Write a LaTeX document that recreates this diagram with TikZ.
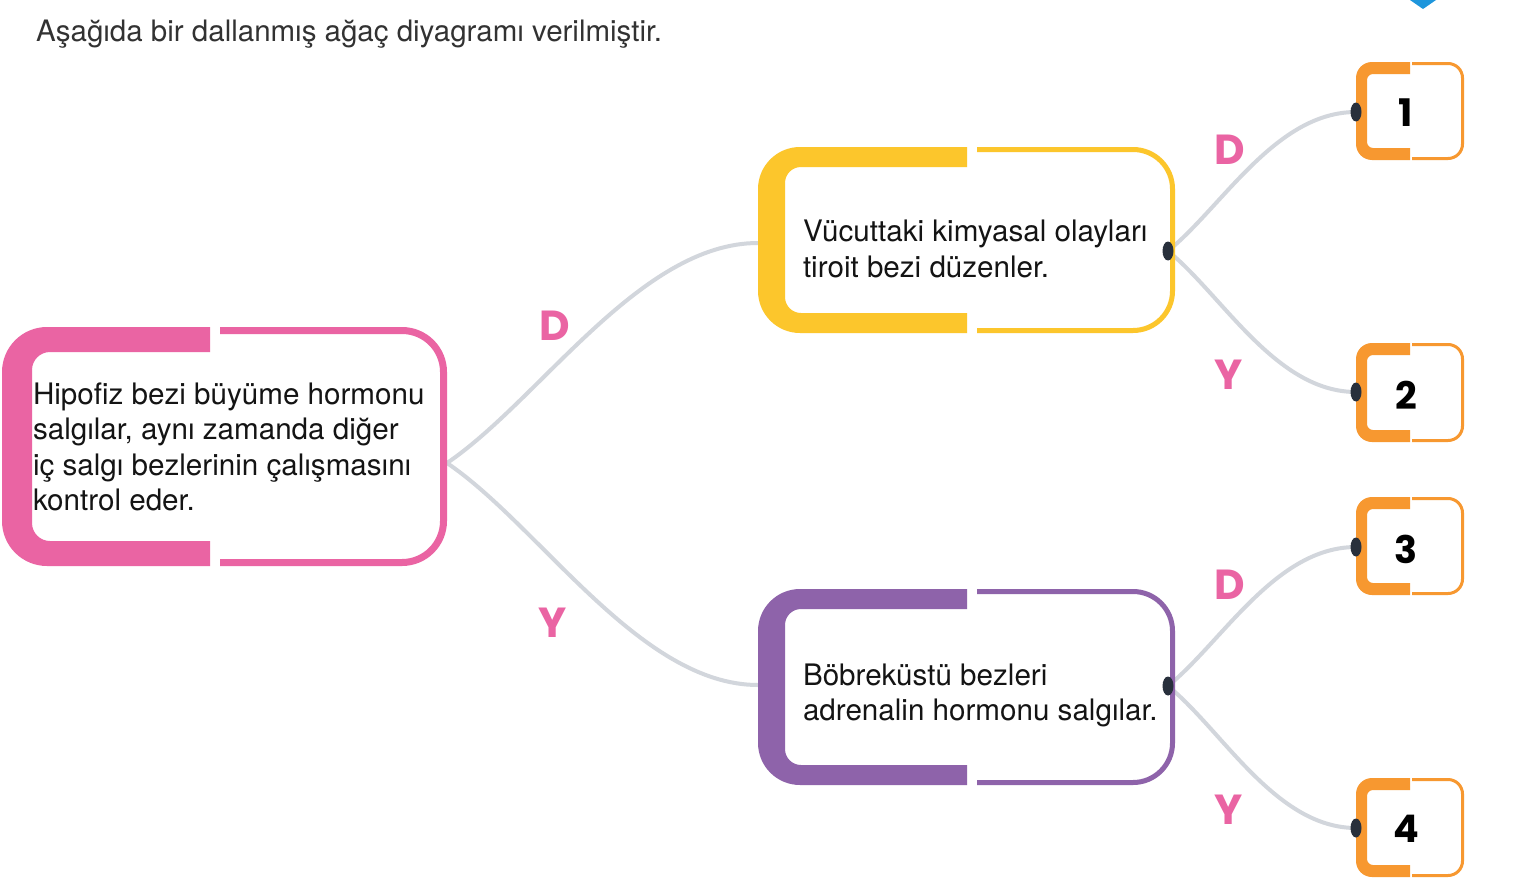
\documentclass[tikz,border=0pt]{standalone}
\usepackage{fontspec}
\setmainfont{TeX Gyre Heros}
\newfontfamily\labfont{Poppins}
\usetikzlibrary{calc,shapes.geometric,backgrounds}
\definecolor{pinkc}{RGB}{234,100,163}
\definecolor{yellowc}{RGB}{252,198,44}
\definecolor{purplec}{RGB}{142,99,170}
\definecolor{orangec}{RGB}{247,152,48}
\definecolor{connc}{RGB}{210,214,220}
\definecolor{dotc}{RGB}{40,48,60}
\definecolor{textc}{RGB}{20,20,20}
\definecolor{titlec}{RGB}{50,50,50}
\definecolor{bluec}{RGB}{30,150,220}
% #1 name #2 colour #3 split x #4 gap #5 thin #6 thick side #7 thick bar #8 outer radius #9 inner radius
\newcommand\bracketbox[9]{%
  \begin{scope}
    \clip (-10,-10) rectangle (#3,900);
    \fill[#2, even odd rule, rounded corners=#8] (#1.north west) rectangle (#1.south east)
      [rounded corners=#9] ($(#1.north west)+(#6,#7)$) rectangle ($(#1.south east)+(-#6,-#7)$);
  \end{scope}
  \begin{scope}
    \clip (#3+#4,-10) rectangle (1600,900);
    \draw[#2, line width=#5, rounded corners=#8-#5/2]
      ($(#1.north west)+(#5/2,#5/2)$) rectangle ($(#1.south east)+(-#5/2,-#5/2)$);
  \end{scope}}
\begin{document}
\begin{tikzpicture}[x=1pt,y=-1pt,
  area/.style={inner sep=0, outer sep=0, draw=none},
  txt/.style={inner sep=0, outer sep=0, align=left, text=textc, font=\fontsize{29.6}{35.5}\selectfont},
  lab/.style={inner sep=0, text=pinkc, font=\labfont\bfseries\fontsize{42}{42}\selectfont},
  num/.style={inner sep=0, text=black, font=\labfont\bfseries\fontsize{38}{38}\selectfont},
  dot/.style={ellipse, fill=dotc, inner sep=0, minimum width=11, minimum height=19},
  conn/.style={draw=connc, line width=4, line cap=round}]
\useasboundingbox (0,0) rectangle (1522,886);
\fill[bluec] (1410,0) -- (1436,0) -- (1423,9) -- cycle;
\node[inner sep=0, anchor=base west, text=titlec, font=\fontsize{29.5}{32}\selectfont] (title) at (36,41)
  {Aşağıda bir dallanmış ağaç diyagramı verilmiştir.};
% boxes
\node[area, minimum width=445, minimum height=239] (pinkbox) at (224.5,446.5) {};
\node[area, minimum width=417, minimum height=186] (yellowbox) at (966.5,240) {};
\node[area, minimum width=417, minimum height=196] (purplebox) at (966.5,687) {};
\node[area, minimum width=108, minimum height=98] (o1) at (1410,111) {};
\node[area, minimum width=108, minimum height=99] (o2) at (1410,392.5) {};
\node[area, minimum width=108, minimum height=98] (o3) at (1410,546) {};
\node[area, minimum width=108, minimum height=99] (o4) at (1410,827.5) {};
\bracketbox{pinkbox}{pinkc}{210}{10}{7}{30}{25}{45}{18}
\bracketbox{yellowbox}{yellowc}{967}{10}{5}{27}{20}{42}{16}
\bracketbox{purplebox}{purplec}{967}{10}{5}{27}{20}{42}{16}
\bracketbox{o1}{orangec}{1410}{2}{3}{11}{12}{16}{6}
\bracketbox{o2}{orangec}{1410}{2}{3}{11}{12}{16}{6}
\bracketbox{o3}{orangec}{1410}{2}{3}{11}{12}{16}{6}
\bracketbox{o4}{orangec}{1410}{2}{3}{11}{12}{16}{6}
% texts
\node[txt, anchor=north west] (t1) at (33,382.5) {Hipofiz bezi büyüme hormonu\\salgılar, aynı zamanda diğer\\iç salgı bezlerinin çalışmasını\\kontrol eder.};
\node[txt, anchor=north west] (t2) at (803,220) {Vücuttaki kimyasal olayları\\tiroit bezi düzenler.};
\node[txt, anchor=north west] (t3) at (803,663.5) {Böbreküstü bezleri\\adrenalin hormonu salgılar.};
\node[num] (n1) at (1406,113) {1};
\node[num] (n2) at (1406,395) {2};
\node[num] (n3) at (1406,549) {3};
\node[num] (n4) at (1406,829) {4};
% labels
\node[lab] (l1) at (555,326) {D};
\node[lab] (l2) at (553,623) {Y};
\node[lab] (l3) at (1230,150) {D};
\node[lab] (l4) at (1229,375) {Y};
\node[lab] (l5) at (1230,585) {D};
\node[lab] (l6) at (1229,810) {Y};
% dots and ports
\coordinate (pinkout) at (447,463);
\coordinate (yellowin) at (758,243);
\coordinate (purplein) at (758,685);
\node[dot] (dy) at (1168,251) {};
\node[dot] (dp) at (1168,686) {};
\node[dot] (d1) at (1356,112) {};
\node[dot] (d2) at (1356,392) {};
\node[dot] (d3) at (1356,547) {};
\node[dot] (d4) at (1356,828) {};
\begin{scope}[on background layer]
\fill[white] (0,0) rectangle (1522,886);
\draw[conn] (pinkout) .. controls +(93,-63) and +(-118,0) .. (yellowin);
\draw[conn] (pinkout) .. controls +(93,63) and +(-118,0) .. (purplein);
\draw[conn] (dy.center) .. controls +(55,-45) and +(-80,0) .. (d1.center);
\draw[conn] (dy.center) .. controls +(55,45) and +(-80,0) .. (d2.center);
\draw[conn] (dp.center) .. controls +(55,-45) and +(-80,0) .. (d3.center);
\draw[conn] (dp.center) .. controls +(55,45) and +(-80,0) .. (d4.center);
\end{scope}
\end{tikzpicture}
\end{document}
